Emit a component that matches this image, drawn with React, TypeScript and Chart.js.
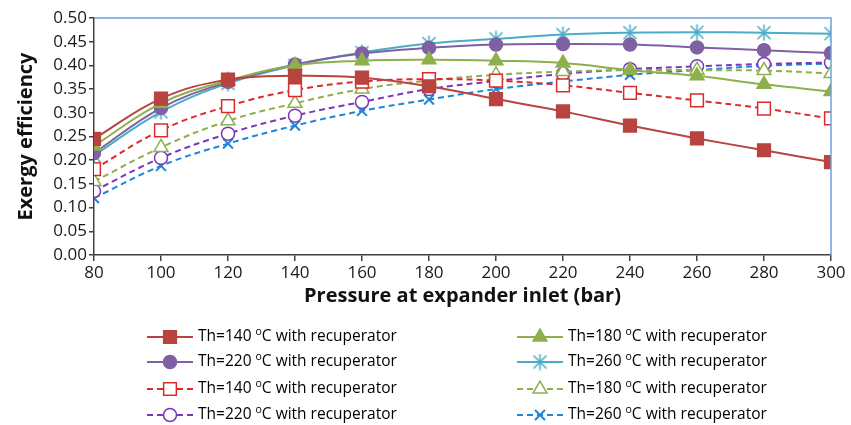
import React, { useEffect, useRef } from 'react';
import { Chart, registerables } from 'chart.js';
import { drawPoint } from 'chart.js/helpers';

Chart.register(...registerables);

const pressures = [80, 100, 120, 140, 160, 180, 200, 220, 240, 260, 280, 300];
const yTicks = [0, 0.05, 0.1, 0.15, 0.2, 0.25, 0.3, 0.35, 0.4, 0.45, 0.5];

const th140With = [0.245, 0.330, 0.370, 0.378, 0.374, 0.356, 0.329, 0.303, 0.273, 0.246, 0.221, 0.196];
const th180With = [0.230, 0.320, 0.368, 0.400, 0.410, 0.412, 0.410, 0.405, 0.390, 0.378, 0.360, 0.345];
const th220With = [0.215, 0.310, 0.365, 0.402, 0.425, 0.437, 0.444, 0.445, 0.444, 0.438, 0.432, 0.426];
const th260With = [0.210, 0.302, 0.362, 0.400, 0.427, 0.446, 0.456, 0.465, 0.469, 0.470, 0.469, 0.467];
const th140Dash = [0.181, 0.263, 0.314, 0.348, 0.366, 0.371, 0.368, 0.358, 0.342, 0.326, 0.309, 0.288];
const th180Dash = [0.155, 0.227, 0.283, 0.320, 0.350, 0.368, 0.380, 0.387, 0.390, 0.390, 0.389, 0.383];
const th220Dash = [0.135, 0.205, 0.256, 0.294, 0.323, 0.350, 0.367, 0.382, 0.392, 0.398, 0.403, 0.406];
const th260Dash = [0.120, 0.188, 0.235, 0.273, 0.304, 0.328, 0.350, 0.366, 0.380, 0.390, 0.399, 0.404];

const seriesLabels = [
  'Th=140 ºC with recuperator',
  'Th=180 ºC with recuperator',
  'Th=220 ºC with recuperator',
  'Th=260 ºC with recuperator',
  'Th=140 ºC with recuperator',
  'Th=180 ºC with recuperator',
  'Th=220 ºC with recuperator',
  'Th=260 ºC with recuperator',
];

const FONT = '"Open Sans", "Liberation Sans", sans-serif';

function makeStar(color: string, size: number): HTMLCanvasElement {
  const c = document.createElement('canvas');
  c.width = size;
  c.height = size;
  const g = c.getContext('2d')!;
  g.strokeStyle = color;
  g.lineWidth = 1.6;
  const m = 2;
  g.beginPath();
  g.moveTo(m, m);
  g.lineTo(size - m, size - m);
  g.moveTo(size - m, m);
  g.lineTo(m, size - m);
  g.moveTo(size / 2, 0.5);
  g.lineTo(size / 2, size - 0.5);
  g.stroke();
  return c;
}

const framePlugin = {
  id: 'frame',
  afterDatasetsDraw(chart: any) {
    const { ctx, chartArea } = chart;
    ctx.save();
    ctx.strokeStyle = '#6fa3d8';
    ctx.lineWidth = 1.5;
    ctx.beginPath();
    ctx.moveTo(chartArea.left, chartArea.top);
    ctx.lineTo(chartArea.right, chartArea.top);
    ctx.lineTo(chartArea.right, chartArea.bottom);
    ctx.stroke();
    ctx.restore();
  },
};

const legendPlugin = {
  id: 'customLegend',
  afterDraw(chart: any) {
    const { ctx } = chart;
    const ds = chart.data.datasets;
    const colX = [147, 517];
    const rowY = [337, 362, 389, 415];
    const lineLen = 46;
    ctx.save();
    ds.forEach((d: any, i: number) => {
      const col = i % 2;
      const row = Math.floor(i / 2);
      const x0 = colX[col];
      const y = rowY[row];
      ctx.strokeStyle = d.borderColor;
      ctx.lineWidth = 2;
      ctx.setLineDash(d.borderDash || []);
      ctx.beginPath();
      ctx.moveTo(x0, y);
      ctx.lineTo(x0 + lineLen, y);
      ctx.stroke();
      ctx.setLineDash([]);
      ctx.fillStyle = d.pointBackgroundColor;
      ctx.strokeStyle = d.pointBorderColor || d.borderColor;
      ctx.lineWidth = d.pointBorderWidth;
      drawPoint(ctx, { pointStyle: d.pointStyle, radius: d.pointRadius, rotation: 0, borderWidth: d.pointBorderWidth }, x0 + lineLen / 2, y);
      const tx = x0 + lineLen + 5;
      const parts = String(d.label).split('º');
      ctx.fillStyle = '#000';
      ctx.textBaseline = 'middle';
      ctx.textAlign = 'left';
      ctx.font = `15.5px ${FONT}`;
      ctx.fillText(parts[0], tx, y);
      let w = ctx.measureText(parts[0]).width;
      ctx.font = `10.5px ${FONT}`;
      ctx.fillText('o', tx + w, y - 5);
      w += ctx.measureText('o').width;
      ctx.font = `15.5px ${FONT}`;
      ctx.fillText(parts[1] || '', tx + w, y);
    });
    ctx.restore();
  },
};

export default function App() {
  const ref = useRef<HTMLCanvasElement | null>(null);

  useEffect(() => {
    document.body.style.margin = '0';
    const canvas = ref.current;
    if (!canvas) return;
    const star = makeStar('#4bacc6', 17);

    const mk = (label: string, data: number[], color: string, style: any, radius: number, dashed: boolean, fill: string, bw = 1.5) => ({
      label,
      data: data.map((v, i) => ({ x: pressures[i], y: v })),
      borderColor: color,
      backgroundColor: fill,
      pointBackgroundColor: fill,
      pointBorderColor: color,
      pointBorderWidth: bw,
      pointStyle: style,
      pointRadius: radius,
      pointHoverRadius: radius,
      borderWidth: 2,
      borderDash: dashed ? [6, 4] : [],
      tension: 0.4,
      fill: false,
    });

    const datasets = [
      mk(seriesLabels[0], th140With, '#b8433f', 'rect', 9, false, '#b8433f'),
      mk(seriesLabels[1], th180With, '#8eb04c', 'triangle', 8, false, '#8eb04c'),
      mk(seriesLabels[2], th220With, '#7f61a3', 'circle', 6.5, false, '#7f61a3'),
      mk(seriesLabels[3], th260With, '#4bacc6', star, 8, false, '#4bacc6'),
      mk(seriesLabels[4], th140Dash, '#dd2a2a', 'rect', 9, true, '#ffffff'),
      mk(seriesLabels[5], th180Dash, '#8eb04c', 'triangle', 8, true, '#ffffff'),
      mk(seriesLabels[6], th220Dash, '#7a38b8', 'circle', 6.5, true, '#ffffff'),
      mk(seriesLabels[7], th260Dash, '#1f86d6', 'crossRot', 7, true, '#1f86d6', 2),
    ];

    const chart = new Chart(canvas, {
      type: 'line',
      data: { datasets } as any,
      options: {
        animation: false,
        responsive: false,
        maintainAspectRatio: false,
        layout: { padding: { top: 18, right: 20, left: 0, bottom: 117 } },
        plugins: { legend: { display: false }, tooltip: { enabled: false } },
        scales: {
          x: {
            type: 'linear',
            min: 80,
            max: 300,
            afterBuildTicks: (scale: any) => {
              scale.ticks = pressures.map((v) => ({ value: v }));
            },
            afterFit: (scale: any) => {
              scale.height = 53;
            },
            ticks: {
              font: { family: FONT, size: 17 },
              color: '#1a1a1a',
              padding: 2,
              maxRotation: 0,
              autoSkip: false,
            },
            grid: { display: true, drawOnChartArea: false, drawTicks: true, tickLength: 6, color: '#404040', lineWidth: 1.5 },
            border: { display: true, color: '#404040', width: 1.5 },
            title: {
              display: true,
              text: 'Pressure at expander inlet (bar)',
              font: { family: FONT, size: 20, weight: 'bold' },
              color: '#111',
              padding: { top: 0, bottom: 0 },
            },
          },
          y: {
            type: 'linear',
            min: 0,
            max: 0.5,
            afterBuildTicks: (scale: any) => {
              scale.ticks = yTicks.map((v) => ({ value: v }));
            },
            afterFit: (scale: any) => {
              scale.width = 94;
            },
            ticks: {
              font: { family: FONT, size: 17 },
              color: '#1a1a1a',
              padding: 2,
              callback: (v: any) => Number(v).toFixed(2),
            },
            grid: { display: true, drawOnChartArea: false, drawTicks: true, tickLength: 5, color: '#404040', lineWidth: 1.5 },
            border: { display: true, color: '#404040', width: 1.5 },
            title: {
              display: true,
              text: 'Exergy efficiency',
              font: { family: FONT, size: 20, weight: 'bold' },
              color: '#111',
              padding: { top: 14, bottom: 0 },
            },
          },
        },
      } as any,
      plugins: [framePlugin, legendPlugin],
    });
    return () => chart.destroy();
  }, []);

  return (
    <div style={{ width: 851, height: 425, position: 'relative' }}>
      <canvas ref={ref} width={851} height={425} style={{ width: 851, height: 425, display: 'block' }} />
    </div>
  );
}
